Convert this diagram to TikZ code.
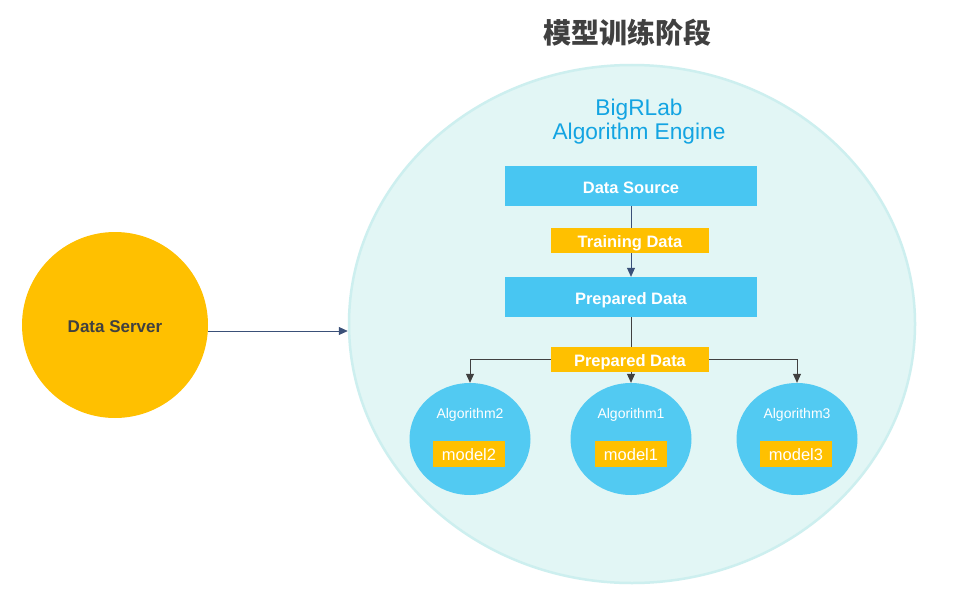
\documentclass[tikz,border=0pt]{standalone}
\usepackage{fontspec}
\setmainfont{Liberation Sans}
\newfontfamily\cjk{Noto Sans CJK SC}
\usetikzlibrary{arrows.meta,shapes.geometric}
\definecolor{engfill}{HTML}{E2F6F5}
\definecolor{engline}{HTML}{CDEFEF}
\definecolor{bluebox}{HTML}{48C6F2}
\definecolor{algfill}{HTML}{52CAF2}
\definecolor{goldbox}{HTML}{FFC000}
\definecolor{navy}{HTML}{3A5078}
\definecolor{darkg}{HTML}{404040}
\definecolor{engtext}{HTML}{13A4E2}
\begin{document}
\begin{tikzpicture}[x=1pt,y=-1pt,
  bigbox/.style={fill=bluebox,draw=none,minimum width=252pt,minimum height=40pt,inner sep=0pt,text=white,text height=14pt,text depth=0pt,font=\fontsize{16.5}{16.5}\selectfont\bfseries},
  labbox/.style={fill=goldbox,draw=none,minimum width=158pt,minimum height=25pt,inner sep=0pt,text=white,text height=14pt,text depth=0pt,font=\fontsize{16.5}{16.5}\selectfont\bfseries},
  algcirc/.style={ellipse,fill=algfill,draw=none,minimum width=121pt,minimum height=112pt,inner sep=0pt},
  modbox/.style={fill=goldbox,draw=none,minimum width=72pt,minimum height=26pt,inner sep=0pt,text=white,text height=13pt,text depth=0pt,font=\fontsize{16.5}{16.5}\selectfont},
  algtext/.style={text=white,font=\fontsize{14}{14}\selectfont},
  conn/.style={draw=darkg,line width=0.8pt,-{Triangle[length=9pt,width=8pt]}},
  conn2/.style={draw=navy,line width=0.8pt,-{Triangle[length=9pt,width=8pt]}}]
\useasboundingbox (0,0) rectangle (958,594);
\fill[white] (0,0) rectangle (958,594);
% engine ellipse
\node[ellipse,fill=engfill,draw=engline,line width=2.5pt,minimum width=566pt,minimum height=518pt,inner sep=0pt] (eng) at (632,324) {};
\node[text=darkg,font=\cjk\fontsize{28}{28}\selectfont\bfseries] (title) at (627,33) {模型训练阶段};
\node[text=engtext,font=\fontsize{22.7}{22.7}\selectfont,align=center] (engname) at (639,122) {BigRLab\\[1.5pt]Algorithm Engine};
% data server
\node[circle,fill=goldbox,draw=none,minimum size=186pt,inner sep=0pt,text=darkg,text height=14pt,text depth=0pt,font=\fontsize{17}{17}\selectfont\bfseries] (server) at (115,325) {Data Server};
% boxes
\node[bigbox] (src) at (631,186) {Data Source};
\node[bigbox] (prep) at (631,297) {Prepared Data};
% algorithms
\node[algcirc] (alg2) at (470,439) {};
\node[algcirc] (alg1) at (631,439) {};
\node[algcirc] (alg3) at (797,439) {};
\coordinate (split) at (631,359);
\draw[conn2] (src.south) -- (prep.north);
\draw[draw=darkg,line width=0.8pt] (prep.south) -- (split);
\draw[conn] (split) -- (alg1.north);
\draw[conn] (split) -| (alg2.north);
\draw[conn] (split) -| (alg3.north);
\node[labbox] (train) at (630,240) {Training Data};
\node[labbox] (prep2) at (630,359) {Prepared Data};
\node[algtext] (t2) at (470,415) {Algorithm2};
\node[algtext] (t1) at (631,415) {Algorithm1};
\node[algtext] (t3) at (797,415) {Algorithm3};
\node[modbox] (m2) at (469,454) {model2};
\node[modbox] (m1) at (631,454) {model1};
\node[modbox] (m3) at (796,454) {model3};
\draw[conn2] (server.east |- 0,331) -- (eng.west |- 0,331);
\end{tikzpicture}
\end{document}
